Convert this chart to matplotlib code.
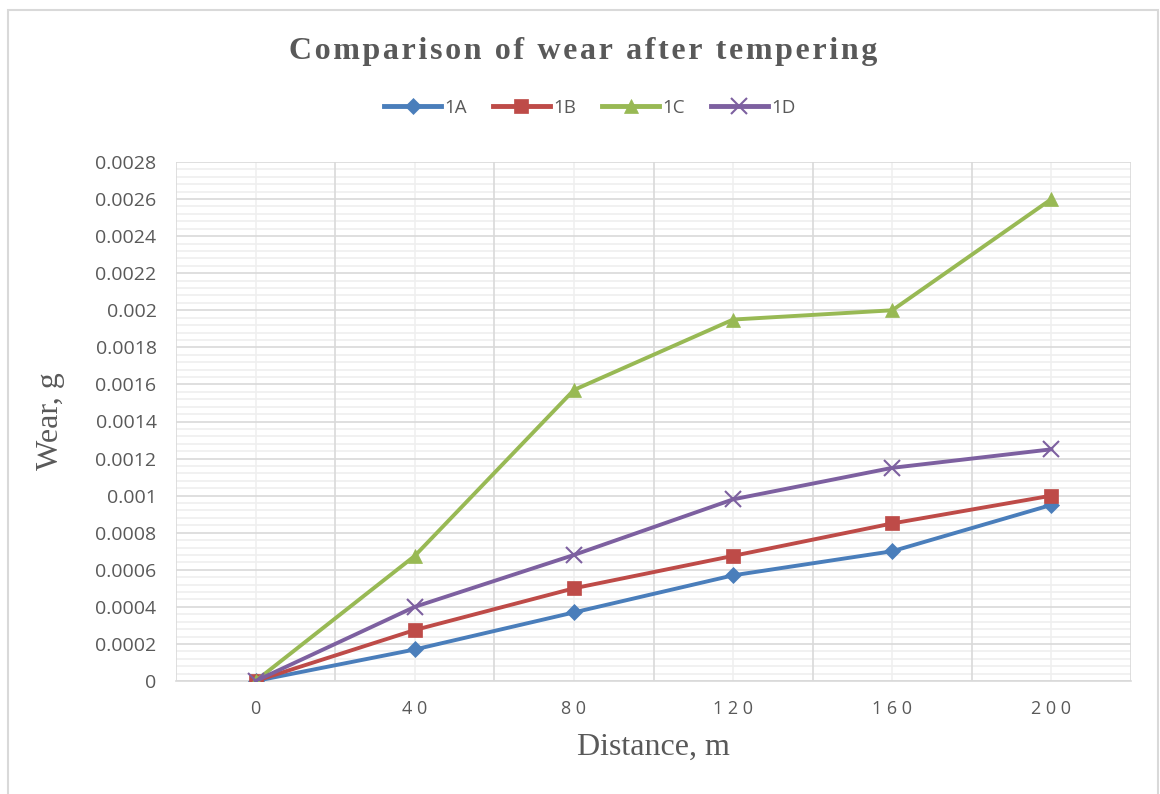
import matplotlib.pyplot as plt
import matplotlib.patches as patches
from matplotlib.ticker import MultipleLocator

# ==============================
# DATA
# ==============================
distance = [0, 40, 80, 120, 160, 200]
wear_1a = [0, 0.00017, 0.00037, 0.00057, 0.0007, 0.00095]
wear_1b = [0, 0.000275, 0.0005, 0.000675, 0.00085, 0.001]
wear_1c = [0, 0.000675, 0.00157, 0.00195, 0.002, 0.0026]
wear_1d = [0, 0.0004, 0.00068, 0.00098, 0.00115, 0.00125]
labels = ["1A", "1B", "1C", "1D"]

colors = ["#4A7EBB", "#BE4B48", "#98B954", "#7D60A0"]
markers = ["D", "s", "^", "x"]
msizes = [8, 10, 10, 11]

title = "Comparison of wear after tempering"

# ==============================
# FIGURE
# ==============================
fig = plt.figure(figsize=(11.6, 7.94), dpi=100)
ax = fig.add_axes([176/1160, 1 - 681/794, (1131-176)/1160, (681-162)/794])

# chart area border
fig.patches.append(patches.Rectangle((8/1160, -0.01), 1150/1160, 1 - 10/794 + 0.01,
                                     transform=fig.transFigure, fill=False,
                                     edgecolor="#D9D9D9", linewidth=1.5))

for y, lab, c, m, ms in zip([wear_1a, wear_1b, wear_1c, wear_1d], labels, colors, markers, msizes):
    ax.plot(distance, y, color=c, linewidth=2.8, marker=m, markersize=ms,
            markeredgewidth=1.5 if m == "x" else 0.5, markeredgecolor=c,
            label=lab, zorder=3)

ax.set_xlim(-20, 220)
ax.set_ylim(0, 0.0028)

ax.set_xticks(distance)
ax.set_xticklabels([" ".join(str(d)) for d in distance])

yt = [i * 0.0002 for i in range(15)]
ax.set_yticks(yt)
ax.set_yticklabels(["0" if i == 0 else f"{v:.4f}".rstrip("0") for i, v in enumerate(yt)])
ax.yaxis.set_minor_locator(MultipleLocator(0.00004))

# grid: light lines at data x, darker lines between categories
ax.grid(False)
for xv in distance:
    ax.axvline(xv, color="#F0F0F0", linewidth=1.2, zorder=0)
for xv in [-20, 20, 60, 100, 140, 180, 220]:
    ax.axvline(xv, color="#D9D9D9", linewidth=1.2, zorder=1)
ax.yaxis.grid(True, which="minor", color="#EFEFEF", linewidth=1.2, zorder=0)
ax.yaxis.grid(True, which="major", color="#D9D9D9", linewidth=1.2, zorder=1)
ax.set_axisbelow(True)

for s in ax.spines.values():
    s.set_visible(False)
ax.spines["bottom"].set_visible(True)
ax.spines["bottom"].set_color("#D9D9D9")
ax.spines["bottom"].set_linewidth(1.2)

ax.tick_params(axis="both", which="both", length=0, colors="#595959", labelsize=14)
ax.tick_params(axis="x", pad=14)
ax.tick_params(axis="y", pad=14)
for t in ax.get_xticklabels() + ax.get_yticklabels():
    t.set_fontfamily("Open Sans")
for t in ax.get_xticklabels():
    t.set_fontsize(13)

ax.set_xlabel("Distance, m", fontfamily="Liberation Serif", fontsize=23,
              color="#595959", labelpad=10)
ax.set_ylabel("Wear, g", fontfamily="Liberation Serif", fontsize=23,
              color="#595959", labelpad=22)

# title with letter spacing (hair spaces between letters)
fig.text(583/1160, 1 - 51/794, "\u200a".join(title),
         ha="center", va="center", fontfamily="Liberation Serif",
         fontweight="bold", fontsize=23, color="#595959")

leg = ax.legend(loc="center", bbox_to_anchor=(590/1160, 1 - 108/794),
                bbox_transform=fig.transFigure, ncol=4, frameon=False,
                handlelength=3.0, columnspacing=1.4, handletextpad=0.2,
                prop={"family": "Open Sans", "size": 13.5})
for t in leg.get_texts():
    t.set_color("#595959")
for h in leg.get_lines():
    h.set_linewidth(3.5)

fig.savefig("out.png", dpi=100)
